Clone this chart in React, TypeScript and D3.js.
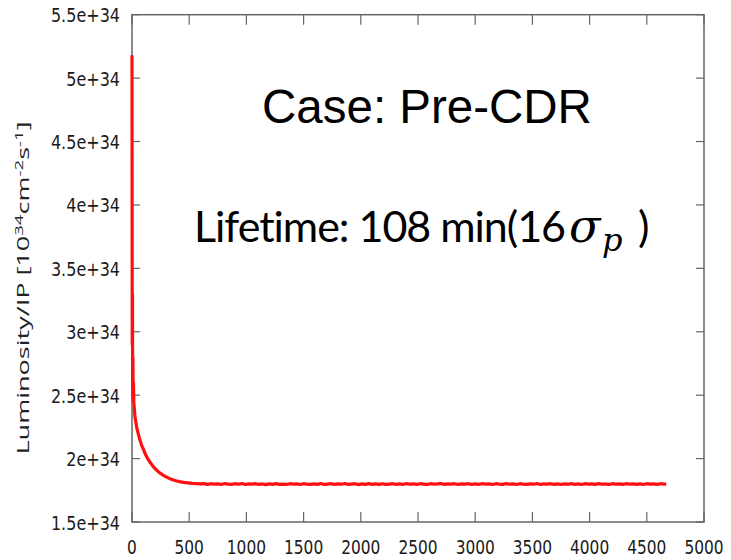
import React from "react";
import * as d3 from "d3";

const W = 731;
const H = 560;

// decay part: time (x) and luminosity (units of 1e34)
const decayTimes: number[] = [0, 2, 4, 6, 8, 10, 13, 16, 20, 26, 35, 45, 54, 65, 75, 86, 97, 110, 125, 140, 155, 172, 190, 212, 230, 250, 275, 298, 320, 340, 362, 384, 415, 450, 490, 527, 560, 600];
const decayLumi: number[] = [5.18, 2.9, 3.3, 2.5, 2.8, 2.46, 2.6, 2.44, 2.4, 2.33, 2.28, 2.23, 2.2, 2.16, 2.13, 2.1, 2.08, 2.05, 2.02, 1.995, 1.975, 1.953, 1.932, 1.912, 1.897, 1.883, 1.867, 1.856, 1.846, 1.838, 1.831, 1.825, 1.818, 1.812, 1.808, 1.805, 1.803, 1.801];

// plateau part: [time, luminosity] pairs (noisy flat level)
const plateau: [number, number][] = [
  [630, 1.803], [660, 1.797], [690, 1.802], [720, 1.798], [750, 1.801], [780, 1.796], [810, 1.803], [840, 1.799], [870, 1.797], [900, 1.802],
  [930, 1.798], [960, 1.803], [990, 1.796], [1020, 1.8], [1050, 1.798], [1080, 1.802], [1110, 1.797], [1140, 1.8], [1170, 1.795], [1200, 1.801],
  [1230, 1.797], [1260, 1.803], [1290, 1.797], [1320, 1.799], [1350, 1.796], [1380, 1.802], [1410, 1.798], [1440, 1.8], [1470, 1.796], [1500, 1.802],
  [1530, 1.798], [1560, 1.797], [1590, 1.801], [1620, 1.797], [1650, 1.803], [1680, 1.796], [1710, 1.799], [1740, 1.802], [1770, 1.797], [1800, 1.8],
  [1830, 1.798], [1860, 1.804], [1890, 1.796], [1920, 1.799], [1950, 1.802], [1980, 1.795], [2010, 1.801], [2040, 1.797], [2070, 1.803], [2100, 1.797],
  [2130, 1.8], [2160, 1.797], [2190, 1.802], [2220, 1.796], [2250, 1.799], [2280, 1.802], [2310, 1.797], [2340, 1.801], [2370, 1.796], [2400, 1.803],
  [2430, 1.798], [2460, 1.8], [2490, 1.797], [2520, 1.802], [2550, 1.799], [2580, 1.796], [2610, 1.802], [2640, 1.798], [2670, 1.8], [2700, 1.804],
  [2730, 1.797], [2760, 1.801], [2790, 1.798], [2820, 1.802], [2850, 1.796], [2880, 1.8], [2910, 1.798], [2940, 1.802], [2970, 1.797], [3000, 1.8],
  [3030, 1.797], [3060, 1.802], [3090, 1.798], [3120, 1.801], [3150, 1.796], [3180, 1.802], [3210, 1.799], [3240, 1.797], [3270, 1.803], [3300, 1.798],
  [3330, 1.8], [3360, 1.796], [3390, 1.802], [3420, 1.799], [3450, 1.797], [3480, 1.801], [3510, 1.798], [3540, 1.803], [3570, 1.796], [3600, 1.8],
  [3630, 1.798], [3660, 1.802], [3690, 1.797], [3720, 1.801], [3750, 1.796], [3780, 1.8], [3810, 1.798], [3840, 1.803], [3870, 1.797], [3900, 1.8],
  [3930, 1.796], [3960, 1.802], [3990, 1.798], [4020, 1.801], [4050, 1.797], [4080, 1.803], [4110, 1.798], [4140, 1.799], [4170, 1.796], [4200, 1.802],
  [4230, 1.798], [4260, 1.8], [4290, 1.797], [4320, 1.802], [4350, 1.798], [4380, 1.8], [4410, 1.797], [4440, 1.801], [4470, 1.796], [4500, 1.802],
  [4530, 1.798], [4560, 1.801], [4590, 1.797], [4620, 1.802], [4650, 1.798], [4670, 1.799],
];

const xTicks: number[] = [0, 500, 1000, 1500, 2000, 2500, 3000, 3500, 4000, 4500, 5000];
const yTicks: number[] = [1.5, 2, 2.5, 3, 3.5, 4, 4.5, 5, 5.5];
const yTickLabels: string[] = ["1.5e+34", "2e+34", "2.5e+34", "3e+34", "3.5e+34", "4e+34", "4.5e+34", "5e+34", "5.5e+34"];

const L = 132, R = 704, T = 14.7, B = 522;

export default function App() {
  const x = d3.scaleLinear().domain([0, 5000]).range([L, R]);
  const y = d3.scaleLinear().domain([1.5, 5.5]).range([B, T]);
  const pts: [number, number][] = decayTimes
    .map((t, i) => [t, decayLumi[i]] as [number, number])
    .concat(plateau);
  const line = d3
    .line<[number, number]>()
    .x((d) => x(d[0]))
    .y((d) => y(d[1]));
  const frame = "#666";
  const tickFont = "'DejaVu Sans', sans-serif";
  return (
    <svg width={W} height={H} style={{ position: "absolute", left: 0, top: 0, background: "#fff" }}>
      <rect x={0} y={0} width={W} height={H} fill="#fff" />
      {/* ticks */}
      {xTicks.map((t) => (
        <g key={"xt" + t}>
          <line x1={x(t)} x2={x(t)} y1={B} y2={B - 10} stroke={frame} strokeWidth={1.2} />
          <line x1={x(t)} x2={x(t)} y1={T} y2={T + 10} stroke={frame} strokeWidth={1.2} />
          <text
            transform={`translate(${x(t)},554) scale(0.77,1)`}
            textAnchor="middle"
            fontFamily={tickFont}
            fontSize={20}
            fill="#1a1a1a"
          >
            {t}
          </text>
        </g>
      ))}
      {yTicks.map((v, i) => (
        <g key={"yt" + v}>
          <line x1={L} x2={L + 8} y1={y(v)} y2={y(v)} stroke={frame} strokeWidth={1.2} />
          <line x1={R} x2={R - 8} y1={y(v)} y2={y(v)} stroke={frame} strokeWidth={1.2} />
          <text
            transform={`translate(120,${y(v) + 7.5}) scale(0.8,1)`}
            textAnchor="end"
            fontFamily={tickFont}
            fontSize={20}
            fill="#1a1a1a"
          >
            {yTickLabels[i]}
          </text>
        </g>
      ))}
      <rect x={L} y={T} width={R - L} height={B - T} fill="none" stroke={frame} strokeWidth={1.5} />
      {/* data */}
      <path d={line(pts) || ""} fill="none" stroke="#ff1010" strokeWidth={3.2} strokeLinejoin="round" />
      {/* y-axis title */}
      <text
        transform="translate(29,288) rotate(-90)"
        textAnchor="middle"
        fontFamily="'Open Sans', sans-serif"
        fontSize={16}
        fill="#222"
        textLength={333}
        lengthAdjust="spacingAndGlyphs"
      >
        <tspan>Luminosity/IP [10</tspan>
        <tspan fontSize={11} dy={-6}>34</tspan>
        <tspan dy={6}>cm</tspan>
        <tspan fontSize={11} dy={-6}>-2</tspan>
        <tspan dy={6}>s</tspan>
        <tspan fontSize={11} dy={-6}>-1</tspan>
        <tspan dy={6}>]</tspan>
      </text>
      {/* annotations */}
      <text x={262} y={123} fontFamily="'Liberation Sans', Arial, sans-serif" fontSize={47.5} fill="#000">
        Case: Pre-CDR
      </text>
      <text
        x={194}
        y={242}
        fontFamily="Lato, sans-serif"
        fontSize={43}
        fill="#000"
        textLength={372}
        lengthAdjust="spacing"
        style={{ fontVariantLigatures: "none", fontFeatureSettings: "'liga' 0" }}
      >
        Lifetime: 108 min(16
      </text>
      <text x={569} y={242} fontFamily="'DejaVu Serif', serif" fontStyle="italic" fontSize={46} fill="#000">
        σ
      </text>
      <text x={602} y={251} fontFamily="'DejaVu Serif', serif" fontStyle="italic" fontSize={32} fill="#000">
        p
      </text>
      <text x={638} y={242} fontFamily="Lato, sans-serif" fontSize={43} fill="#000">
        )
      </text>
    </svg>
  );
}
